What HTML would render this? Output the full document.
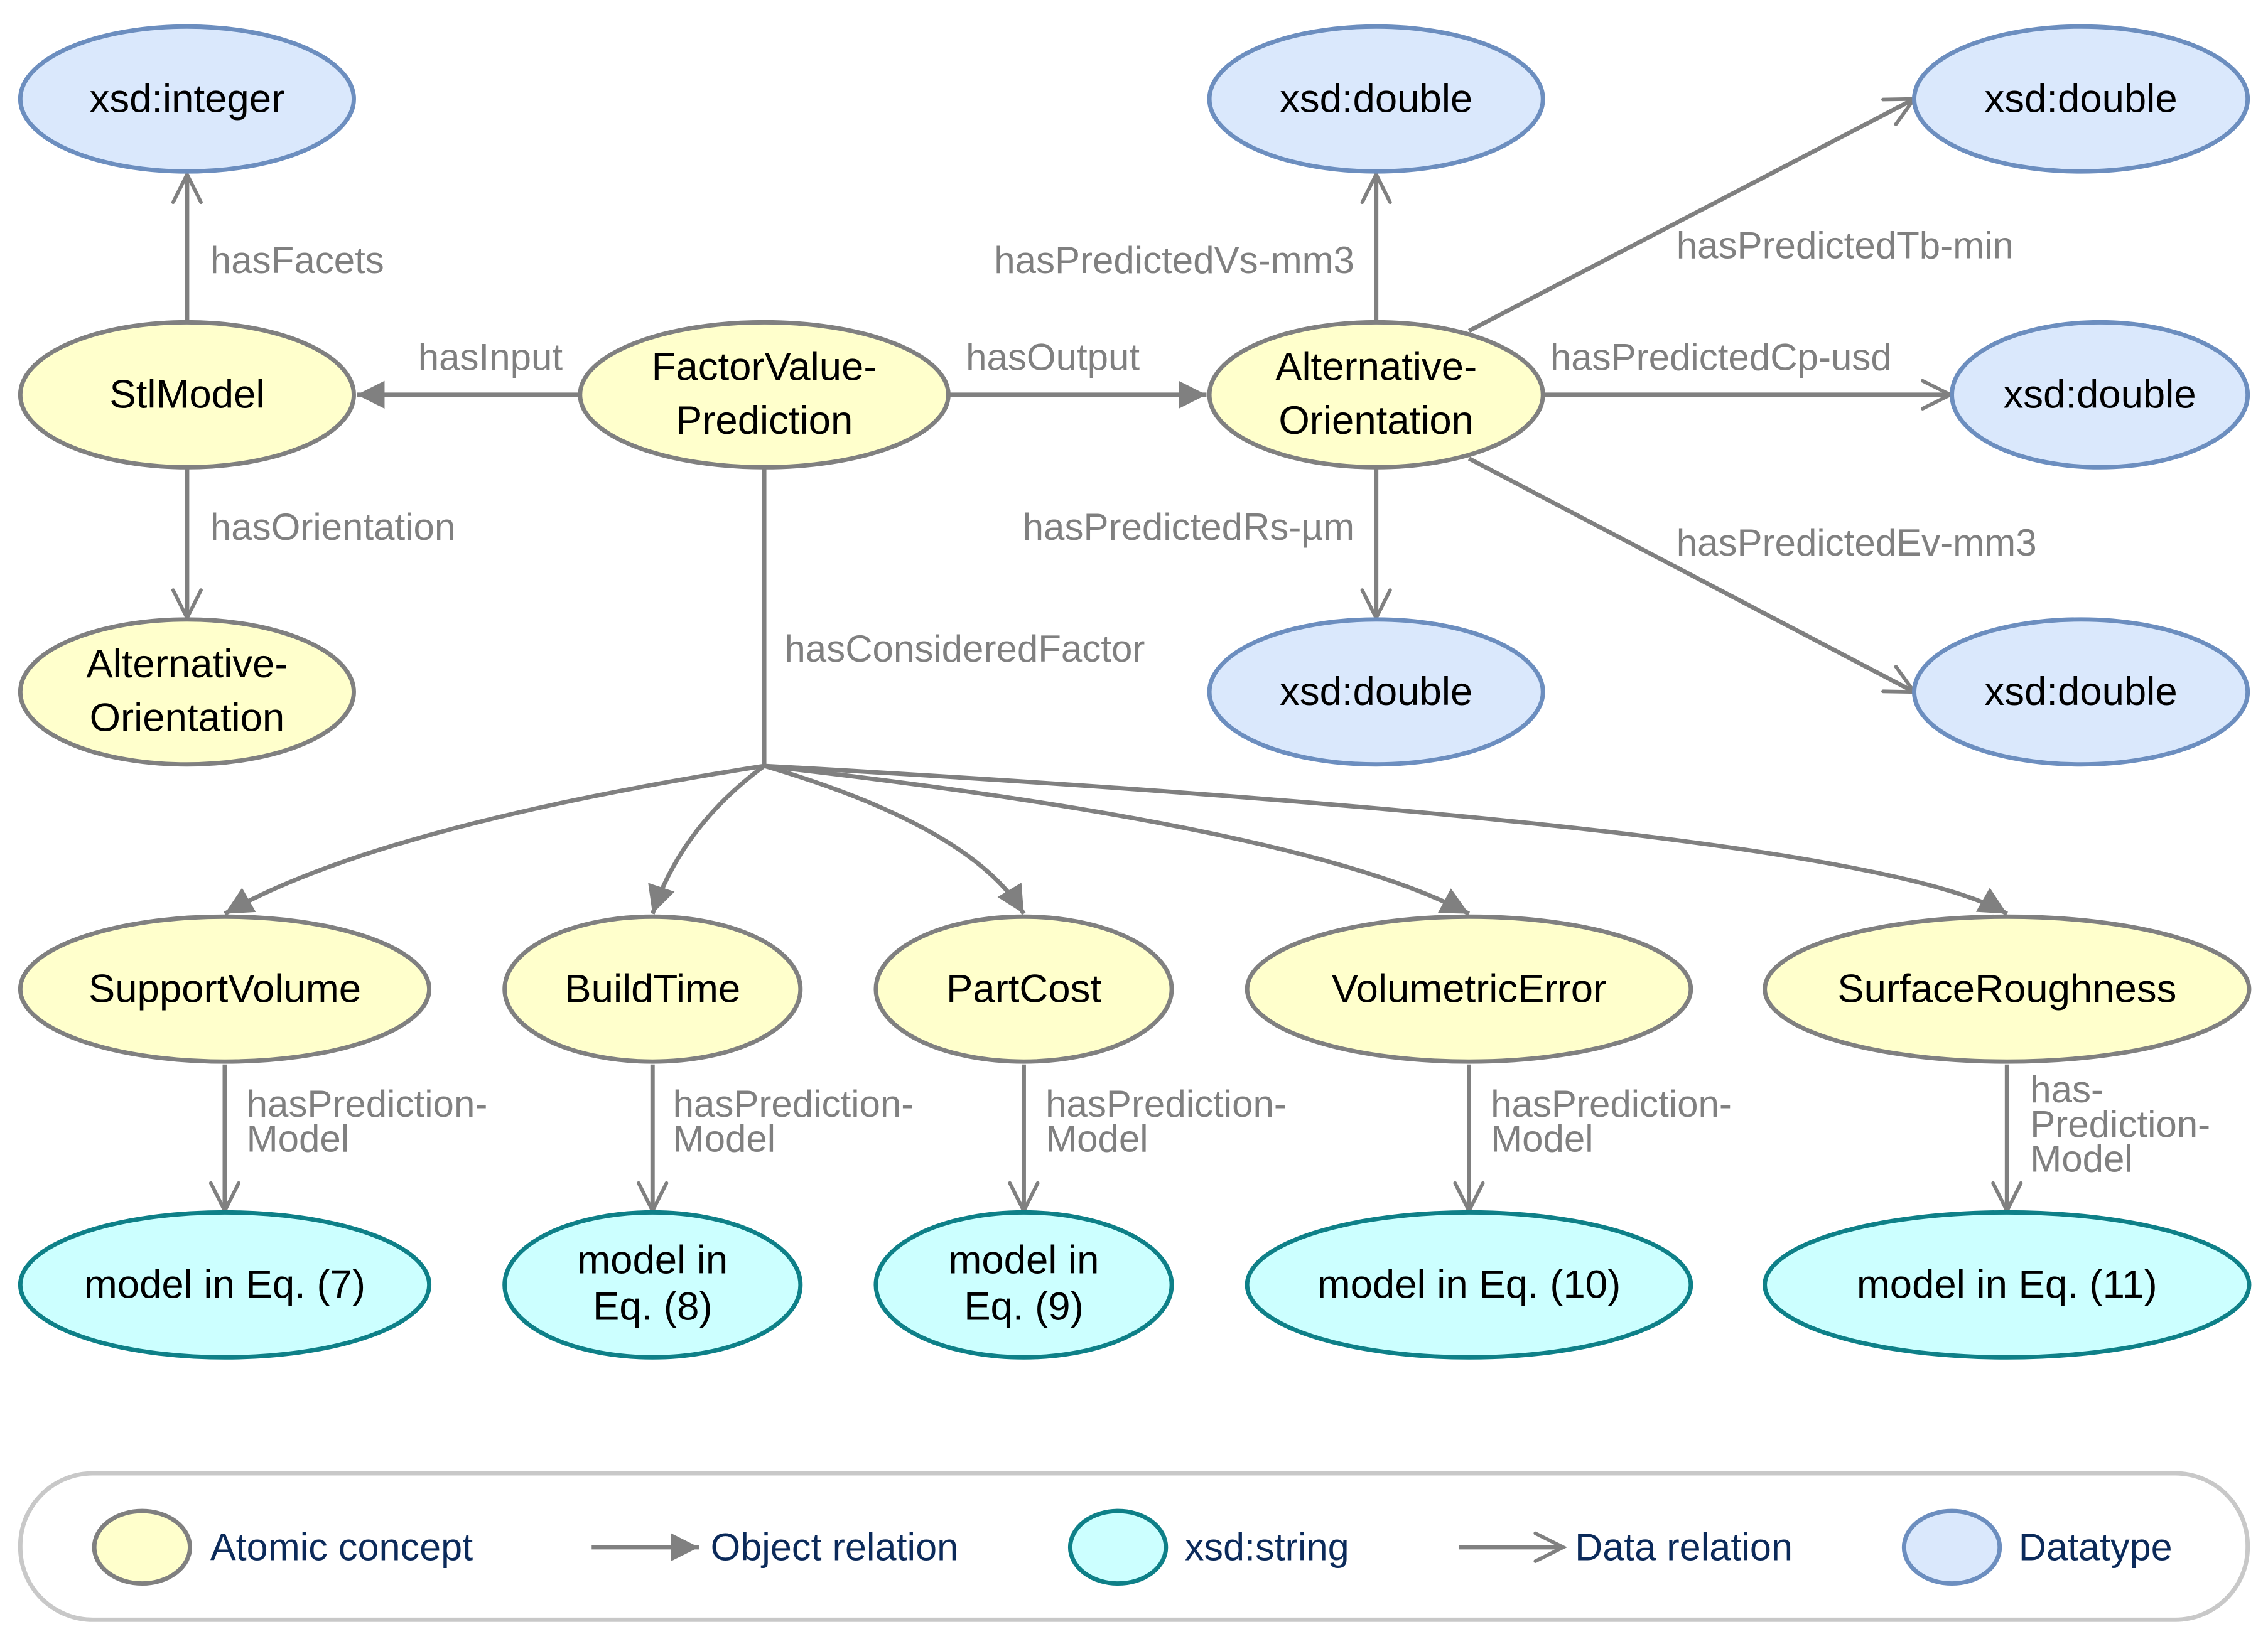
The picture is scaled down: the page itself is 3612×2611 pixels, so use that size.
<!DOCTYPE html>
<html><head><meta charset="utf-8"><style>
html,body{margin:0;padding:0;background:#fff;}
svg{display:block;}
text{font-family:"Liberation Sans",sans-serif;}
.n{font-size:27.5px;fill:#000;text-anchor:middle;}
.l{font-size:26px;fill:#808080;}
.r{text-anchor:end;}
.g{font-size:26.5px;fill:#0b2a5a;}
.e{stroke:#808080;stroke-width:3;fill:none;}
</style></head><body>
<svg width="3612" height="2611" viewBox="0 0 1564 1130" xmlns="http://www.w3.org/2000/svg">
<defs>
<marker id="f" viewBox="0 0 10 10" refX="10" refY="5" markerWidth="8" markerHeight="8" markerUnits="userSpaceOnUse" orient="auto" style="overflow:visible">
<path d="M0,0 L10,5 L0,10 z" fill="#808080" transform="scale(2.4)" transform-origin="10 5"/></marker>
<marker id="o" viewBox="0 0 10 10" refX="10" refY="5" markerWidth="8" markerHeight="8" markerUnits="userSpaceOnUse" orient="auto" style="overflow:visible">
<path d="M0,0 L10,5 L0,10" fill="none" stroke="#808080" stroke-width="1.3" stroke-linecap="round" transform="scale(2.4)" transform-origin="10 5"/></marker>
</defs>
<line class="e" x1="129" y1="222" x2="129" y2="120" marker-end="url(#o)"/>
<line class="e" x1="129" y1="322" x2="129" y2="426" marker-end="url(#o)"/>
<line class="e" x1="400" y1="272" x2="246" y2="272" marker-end="url(#f)"/>
<line class="e" x1="654" y1="272" x2="832" y2="272" marker-end="url(#f)"/>
<line class="e" x1="949" y1="222" x2="949" y2="120" marker-end="url(#o)"/>
<line class="e" x1="949" y1="322" x2="949" y2="426" marker-end="url(#o)"/>
<line class="e" x1="1013" y1="228" x2="1320" y2="68" marker-end="url(#o)"/>
<line class="e" x1="1064" y1="272" x2="1345" y2="272" marker-end="url(#o)"/>
<line class="e" x1="1013" y1="316" x2="1320" y2="477" marker-end="url(#o)"/>
<line class="e" x1="527" y1="322" x2="527" y2="528"/>
<path class="e" d="M527,528 Q260,570 155,630" marker-end="url(#f)"/>
<path class="e" d="M527,528 Q470,570 450,630" marker-end="url(#f)"/>
<path class="e" d="M527,528 Q670,570 706,630" marker-end="url(#f)"/>
<path class="e" d="M527,528 Q900,570 1013,630" marker-end="url(#f)"/>
<path class="e" d="M527,528 Q1280,570 1384,630" marker-end="url(#f)"/>
<line class="e" x1="155" y1="734" x2="155" y2="835" marker-end="url(#o)"/>
<line class="e" x1="450" y1="734" x2="450" y2="835" marker-end="url(#o)"/>
<line class="e" x1="706" y1="734" x2="706" y2="835" marker-end="url(#o)"/>
<line class="e" x1="1013" y1="734" x2="1013" y2="835" marker-end="url(#o)"/>
<line class="e" x1="1384" y1="734" x2="1384" y2="835" marker-end="url(#o)"/>
<text class="l" x="145" y="188">hasFacets</text>
<text class="l" x="145" y="372">hasOrientation</text>
<text class="l r" x="388" y="255">hasInput</text>
<text class="l" x="666" y="255">hasOutput</text>
<text class="l r" x="934" y="188">hasPredictedVs-mm3</text>
<text class="l r" x="934" y="372">hasPredictedRs-µm</text>
<text class="l" x="1156" y="178">hasPredictedTb-min</text>
<text class="l" x="1069" y="255">hasPredictedCp-usd</text>
<text class="l" x="1156" y="383">hasPredictedEv-mm3</text>
<text class="l" x="541" y="456">hasConsideredFactor</text>
<text class="l" x="170" y="770">hasPrediction-</text><text class="l" x="170" y="794">Model</text>
<text class="l" x="464" y="770">hasPrediction-</text><text class="l" x="464" y="794">Model</text>
<text class="l" x="721" y="770">hasPrediction-</text><text class="l" x="721" y="794">Model</text>
<text class="l" x="1028" y="770">hasPrediction-</text><text class="l" x="1028" y="794">Model</text>
<text class="l" x="1400" y="760">has-</text><text class="l" x="1400" y="784">Prediction-</text><text class="l" x="1400" y="808">Model</text>
<g stroke-width="3">
<ellipse cx="129" cy="68" rx="115" ry="50" fill="#dae8fc" stroke="#6c8ebf"/>
<ellipse cx="949" cy="68" rx="115" ry="50" fill="#dae8fc" stroke="#6c8ebf"/>
<ellipse cx="1435" cy="68" rx="115" ry="50" fill="#dae8fc" stroke="#6c8ebf"/>
<ellipse cx="1448" cy="272" rx="102" ry="50" fill="#dae8fc" stroke="#6c8ebf"/>
<ellipse cx="949" cy="477" rx="115" ry="50" fill="#dae8fc" stroke="#6c8ebf"/>
<ellipse cx="1435" cy="477" rx="115" ry="50" fill="#dae8fc" stroke="#6c8ebf"/>
<ellipse cx="129" cy="272" rx="115" ry="50" fill="#ffffcc" stroke="#808080"/>
<ellipse cx="129" cy="477" rx="115" ry="50" fill="#ffffcc" stroke="#808080"/>
<ellipse cx="527" cy="272" rx="127" ry="50" fill="#ffffcc" stroke="#808080"/>
<ellipse cx="949" cy="272" rx="115" ry="50" fill="#ffffcc" stroke="#808080"/>
<ellipse cx="155" cy="682" rx="141" ry="50" fill="#ffffcc" stroke="#808080"/>
<ellipse cx="450" cy="682" rx="102" ry="50" fill="#ffffcc" stroke="#808080"/>
<ellipse cx="706" cy="682" rx="102" ry="50" fill="#ffffcc" stroke="#808080"/>
<ellipse cx="1013" cy="682" rx="153" ry="50" fill="#ffffcc" stroke="#808080"/>
<ellipse cx="1384" cy="682" rx="167" ry="50" fill="#ffffcc" stroke="#808080"/>
<ellipse cx="155" cy="886" rx="141" ry="50" fill="#ccffff" stroke="#0e8088"/>
<ellipse cx="450" cy="886" rx="102" ry="50" fill="#ccffff" stroke="#0e8088"/>
<ellipse cx="706" cy="886" rx="102" ry="50" fill="#ccffff" stroke="#0e8088"/>
<ellipse cx="1013" cy="886" rx="153" ry="50" fill="#ccffff" stroke="#0e8088"/>
<ellipse cx="1384" cy="886" rx="167" ry="50" fill="#ccffff" stroke="#0e8088"/>
</g>
<text class="n" x="129" y="77">xsd:integer</text>
<text class="n" x="949" y="77">xsd:double</text>
<text class="n" x="1435" y="77">xsd:double</text>
<text class="n" x="1448" y="281">xsd:double</text>
<text class="n" x="949" y="486">xsd:double</text>
<text class="n" x="1435" y="486">xsd:double</text>
<text class="n" x="129" y="281">StlModel</text>
<text class="n" x="129" y="467">Alternative-</text><text class="n" x="129" y="504">Orientation</text>
<text class="n" x="527" y="262">FactorValue-</text><text class="n" x="527" y="299">Prediction</text>
<text class="n" x="949" y="262">Alternative-</text><text class="n" x="949" y="299">Orientation</text>
<text class="n" x="155" y="691">SupportVolume</text>
<text class="n" x="450" y="691">BuildTime</text>
<text class="n" x="706" y="691">PartCost</text>
<text class="n" x="1013" y="691">VolumetricError</text>
<text class="n" x="1384" y="691">SurfaceRoughness</text>
<text class="n" x="155" y="895">model in Eq. (7)</text>
<text class="n" x="450" y="878">model in</text><text class="n" x="450" y="910">Eq. (8)</text>
<text class="n" x="706" y="878">model in</text><text class="n" x="706" y="910">Eq. (9)</text>
<text class="n" x="1013" y="895">model in Eq. (10)</text>
<text class="n" x="1384" y="895">model in Eq. (11)</text>
<rect x="14" y="1016" width="1536" height="101" rx="50" ry="50" fill="#fff" stroke="#c8c8c8" stroke-width="3"/>
<ellipse cx="98" cy="1067" rx="33" ry="25" fill="#ffffcc" stroke="#808080" stroke-width="3"/>
<text class="g" x="145" y="1076">Atomic concept</text>
<line class="e" x1="408" y1="1067" x2="482" y2="1067" marker-end="url(#f)"/>
<text class="g" x="490" y="1076">Object relation</text>
<ellipse cx="771" cy="1067" rx="33" ry="25" fill="#ccffff" stroke="#0e8088" stroke-width="3"/>
<text class="g" x="817" y="1076">xsd:string</text>
<line class="e" x1="1006" y1="1067" x2="1078" y2="1067" marker-end="url(#o)"/>
<text class="g" x="1086" y="1076">Data relation</text>
<ellipse cx="1346" cy="1067" rx="33" ry="25" fill="#dae8fc" stroke="#6c8ebf" stroke-width="3"/>
<text class="g" x="1392" y="1076">Datatype</text>
</svg>
</body></html>
